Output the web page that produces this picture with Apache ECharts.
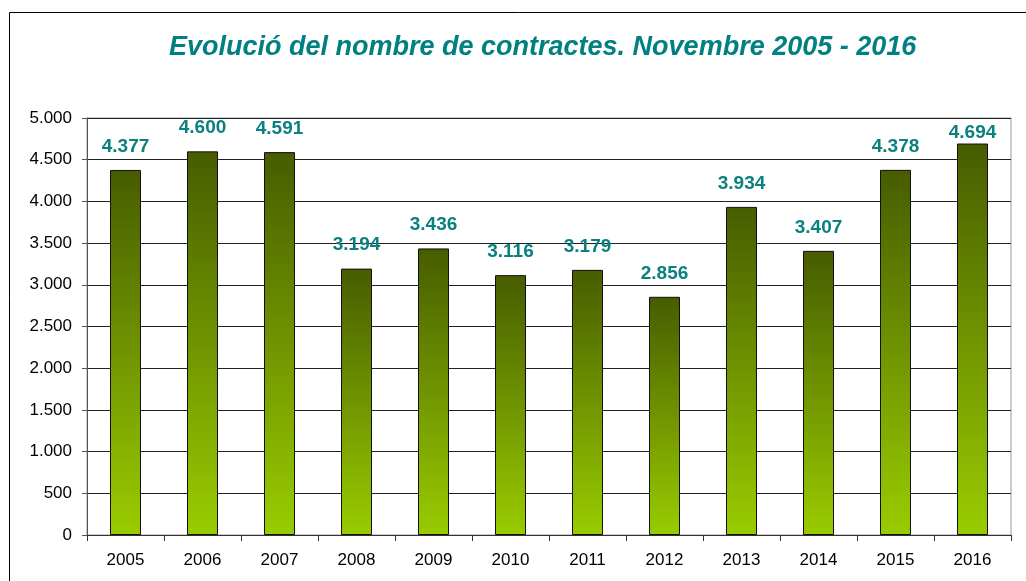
<!DOCTYPE html>
<html>
<head>
<meta charset="utf-8">
<script src="https://cdn.jsdelivr.net/npm/echarts@6/dist/echarts.min.js"></script>
<style>
  html, body { margin: 0; padding: 0; background: #fff; }
  #chart { width: 1026px; height: 581px; }
</style>
</head>
<body>
<div id="chart"></div>
<script>
// dades del gràfic
var years = ['2005', '2006', '2007', '2008', '2009', '2010', '2011', '2012', '2013', '2014', '2015', '2016'];
var contractes = [4377, 4600, 4591, 3194, 3436, 3116, 3179, 2856, 3934, 3407, 4378, 4694];

// format amb punt de milers
function fmt(v) {
    return String(v).replace(/\B(?=(\d{3})+(?!\d))/g, '.');
}

// l'etiqueta que tocaria la vora superior es queda més a prop de la barra
var barData = contractes.map(function (v) {
    return v > 4650 ? { value: v, label: { distance: 1 } } : v;
});

var myChart = echarts.init(document.getElementById('chart'));
myChart.setOption({
    backgroundColor: '#fff',
    animation: false,
    title: {
        text: 'Evolució del nombre de contractes. Novembre 2005 - 2016',
        left: 164,
        top: 29,
        textStyle: {
            color: '#008080',
            fontFamily: 'Liberation Sans, Arial, sans-serif',
            fontStyle: 'italic',
            fontWeight: 'bold',
            fontSize: 27
        }
    },
    graphic: [{
        type: 'rect',
        shape: { x: 9.5, y: 12.5, width: 1040, height: 600 },
        style: { fill: 'none', stroke: '#000', lineWidth: 1 },
        z: -1
    }],
    grid: {
        left: 87,
        right: 15,
        top: 118,
        bottom: 46,
        show: true,
        borderColor: '#999',
        borderWidth: 1
    },
    xAxis: {
        type: 'category',
        data: years,
        axisLine: { lineStyle: { color: '#333' } },
        axisTick: { show: true, length: 6, lineStyle: { color: '#333' } },
        axisLabel: {
            color: '#000',
            fontFamily: 'Liberation Sans, Arial, sans-serif',
            fontSize: 17,
            margin: 17
        }
    },
    yAxis: {
        type: 'value',
        min: 0,
        max: 5000,
        interval: 500,
        axisLine: { show: true, lineStyle: { color: '#555' } },
        axisTick: { show: true, length: 5, lineStyle: { color: '#555' } },
        axisLabel: {
            color: '#000',
            fontFamily: 'Liberation Sans, Arial, sans-serif',
            fontSize: 17,
            margin: 15,
            formatter: fmt
        },
        splitLine: { lineStyle: { color: '#222', width: 1 } }
    },
    series: [{
        name: 'Contractes',
        type: 'bar',
        data: barData,
        barWidth: 31,
        itemStyle: {
            color: new echarts.graphic.LinearGradient(0, 0, 0, 1, [
                { offset: 0, color: '#475c00' },
                { offset: 1, color: '#99cc00' }
            ]),
            borderColor: '#111',
            borderWidth: 1
        },
        label: {
            show: true,
            position: 'top',
            distance: 14,
            color: '#0a8080',
            fontFamily: 'Liberation Sans, Arial, sans-serif',
            fontWeight: 'bold',
            fontSize: 19,
            formatter: function (p) { return fmt(p.value); }
        }
    }]
});
</script>
</body>
</html>
